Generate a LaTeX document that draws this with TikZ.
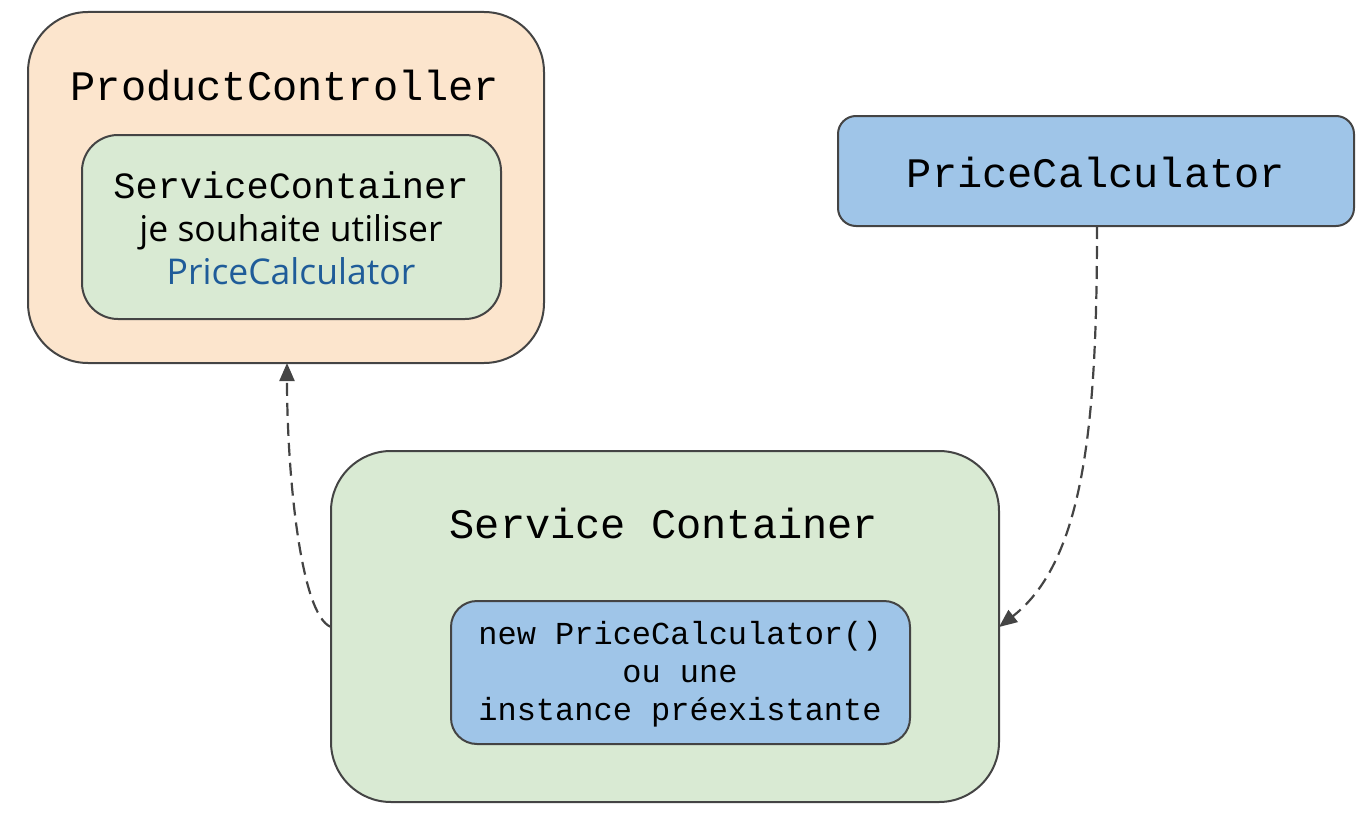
\documentclass[tikz,border=0pt]{standalone}
\usepackage{fontspec}
\setmainfont{Open Sans}
\setmonofont{Liberation Mono}
\usetikzlibrary{arrows.meta}
\definecolor{orangefill}{HTML}{FCE5CD}
\definecolor{greenfill}{HTML}{D9EAD3}
\definecolor{bluefill}{HTML}{9FC5E8}
\definecolor{edge}{HTML}{444444}
\definecolor{bluetext}{HTML}{1F5C99}
\tikzset{
  box/.style={draw=edge, line width=2pt, align=center, inner sep=0pt},
  link/.style={draw=edge, line width=2.2pt, dash pattern=on 13pt off 7pt,
    -{Triangle[length=18pt,width=15pt]}},
}
\begin{document}
\begin{tikzpicture}[x=1pt,y=-1pt]
\useasboundingbox (0,0) rectangle (1361,816);
% ProductController
\draw[box, fill=orangefill, rounded corners=60pt] (28,12) rectangle (544,363);
\coordinate (pcbottom) at (287,363);
\node[font=\ttfamily\fontsize{42}{42}\selectfont] (pct) at (285,86) {ProductController};
\draw[box, fill=greenfill, rounded corners=36pt] (82,135) rectangle (501,319);
\node[font=\ttfamily\fontsize{37}{37}\selectfont] (sct) at (291,185) {ServiceContainer};
\node[font=\fontsize{35.5}{43}\selectfont, align=center] (jst) at (291,250) {je souhaite utiliser\\ \color{bluetext}PriceCalculator};
% PriceCalculator
\draw[box, fill=bluefill, rounded corners=18pt] (838,116) rectangle (1354,226);
\node[font=\ttfamily\fontsize{42}{42}\selectfont] (pcal) at (1096,172) {PriceCalculator};
\coordinate (pcalbottom) at (1097,226);
% Service Container
\draw[box, fill=greenfill, rounded corners=60pt] (331,451) rectangle (999,802);
\node[font=\ttfamily\fontsize{42}{42}\selectfont] (sc) at (664,523) {Service Container};
\coordinate (scleft) at (331,627);
\coordinate (scright) at (999,627);
\draw[box, fill=bluefill, rounded corners=26pt] (451,601) rectangle (910,744);
\node[font=\ttfamily\fontsize{32}{38}\selectfont, align=center] (inst) at (680,674) {new PriceCalculator()\\ou une\\instance préexistante};
% connectors
\draw[link] (scleft) .. controls (300,615) and (287,470) .. (pcbottom);
\draw[link] (pcalbottom) .. controls (1097,420) and (1085,560) .. (scright);
\end{tikzpicture}
\end{document}
